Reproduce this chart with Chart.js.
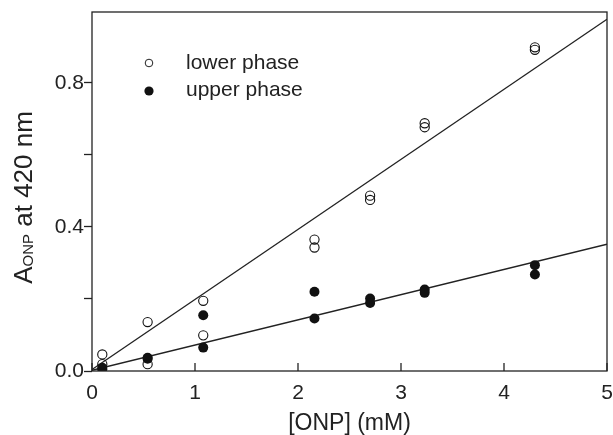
<!DOCTYPE html>
<html>
<head>
<meta charset="utf-8">
<script src="https://cdn.jsdelivr.net/npm/chart.js@4.4.1/dist/chart.umd.min.js"></script>
<style>
  html, body { margin: 0; padding: 0; background: #fff; }
  #wrap { width: 613px; height: 435px; }
</style>
</head>
<body>
<div id="wrap"><canvas id="myChart"></canvas></div>
<script>
const FONT = '"Liberation Sans", Arial, Helvetica, sans-serif';
const INK = "#222";

// ONP concentration (mM) for each measurement
const lowerX = [0.10, 0.10, 0.54, 0.54, 1.08, 1.08, 2.16, 2.16, 2.70, 2.70, 3.23, 3.23, 4.30, 4.30];
const lowerY = [0.046, 0.019, 0.136, 0.019, 0.195, 0.099, 0.365, 0.343, 0.487, 0.475, 0.688, 0.677, 0.899, 0.892];
const upperX = [0.10, 0.10, 0.54, 0.54, 1.08, 1.08, 2.16, 2.16, 2.70, 2.70, 3.23, 3.23, 4.30, 4.30];
const upperY = [0.005, 0.009, 0.037, 0.034, 0.155, 0.065, 0.220, 0.146, 0.201, 0.189, 0.226, 0.217, 0.294, 0.268];

// fitted lines (end points)
const fitX = [0, 5];
const lowerFitY = [0.004, 0.977];
const upperFitY = [0.002, 0.352];

const yLabelled = [0, 0.4, 0.8];

const pts = (xs, ys) => xs.map((x, i) => ({ x: x, y: ys[i] }));

const boxPlugin = {
  id: "boxPlugin",
  afterDraw(chart) {
    const { ctx, chartArea: a, scales } = chart;
    ctx.save();
    ctx.strokeStyle = INK;
    ctx.lineWidth = 1.3;
    ctx.strokeRect(a.left, a.top, a.right - a.left, a.bottom - a.top);

    // x ticks point into the plot
    scales.x.ticks.forEach(t => {
      const px = scales.x.getPixelForValue(t.value);
      ctx.beginPath();
      ctx.moveTo(px, a.bottom);
      ctx.lineTo(px, a.bottom - 8);
      ctx.stroke();
    });

    // legend
    const lx = a.left + 57;
    ctx.lineWidth = 1;
    ctx.beginPath();
    ctx.arc(lx, 63, 3.8, 0, Math.PI * 2);
    ctx.stroke();
    ctx.fillStyle = "#111";
    ctx.beginPath();
    ctx.arc(lx, 91, 4.6, 0, Math.PI * 2);
    ctx.fill();
    ctx.fillStyle = INK;
    ctx.font = "21px " + FONT;
    ctx.textBaseline = "alphabetic";
    ctx.textAlign = "left";
    ctx.fillText("lower phase", lx + 37, 69);
    ctx.fillText("upper phase", lx + 37, 96);

    // y title with subscript
    const big = "26px " + FONT, small = "15px " + FONT;
    ctx.font = big;
    const wA = ctx.measureText("A").width;
    const wRest = ctx.measureText(" at 420 nm").width;
    ctx.font = small;
    const wSub = ctx.measureText("ONP").width;
    const total = wA + wSub + wRest;
    const yc = (a.top + a.bottom) / 2 + 6;
    ctx.translate(32, yc);
    ctx.rotate(-Math.PI / 2);
    let x = -total / 2;
    ctx.font = big;
    ctx.fillText("A", x, 0);
    x += wA;
    ctx.font = small;
    ctx.fillText("ONP", x, 1);
    x += wSub;
    ctx.font = big;
    ctx.fillText(" at 420 nm", x, 0);
    ctx.restore();
  }
};

new Chart(document.getElementById("myChart"), {
  type: "scatter",
  data: {
    datasets: [
      {
        label: "lower phase",
        data: pts(lowerX, lowerY),
        order: 0,
        pointStyle: "circle",
        pointRadius: 4.6,
        borderWidth: 1.1,
        borderColor: "#111",
        backgroundColor: "rgba(0,0,0,0)"
      },
      {
        label: "upper phase",
        data: pts(upperX, upperY),
        order: 0,
        pointRadius: 5,
        borderWidth: 0,
        borderColor: "#111",
        backgroundColor: "#111"
      },
      {
        type: "line",
        label: "lower fit",
        data: pts(fitX, lowerFitY),
        order: 1,
        pointRadius: 0,
        borderWidth: 1.3,
        borderColor: INK,
        fill: false
      },
      {
        type: "line",
        label: "upper fit",
        data: pts(fitX, upperFitY),
        order: 1,
        pointRadius: 0,
        borderWidth: 1.3,
        borderColor: INK,
        fill: false
      }
    ]
  },
  options: {
    responsive: true,
    maintainAspectRatio: false,
    animation: false,
    layout: {
      padding: { top: 12, right: 6, left: 0, bottom: 0 }
    },
    plugins: {
      legend: { display: false },
      tooltip: { enabled: false }
    },
    scales: {
      x: {
        type: "linear",
        min: 0,
        max: 5,
        afterFit: s => {
          s.height = 64;
          s.paddingLeft = 0;
          s.paddingRight = 0;
        },
        grid: { display: false, drawTicks: false },
        border: { display: false },
        ticks: {
          stepSize: 1,
          padding: 10,
          color: INK,
          font: { family: FONT, size: 21 }
        },
        title: {
          display: true,
          text: "[ONP] (mM)",
          color: INK,
          padding: { top: 0, bottom: 0 },
          font: { family: FONT, size: 23, lineHeight: 1.0 }
        }
      },
      y: {
        type: "linear",
        min: 0,
        max: 0.997,
        afterFit: s => {
          s.width = 92;
          s.paddingTop = 0;
          s.paddingBottom = 0;
        },
        grid: {
          drawOnChartArea: false,
          drawTicks: true,
          tickLength: 8,
          tickWidth: 1.3,
          tickColor: INK
        },
        border: { display: false },
        ticks: {
          stepSize: 0.2,
          includeBounds: false,
          padding: 0,
          color: INK,
          font: { family: FONT, size: 21 },
          callback: v => yLabelled.some(l => Math.abs(l - v) < 1e-6) ? v.toFixed(1) : ""
        }
      }
    }
  },
  plugins: [boxPlugin]
});
</script>
</body>
</html>
